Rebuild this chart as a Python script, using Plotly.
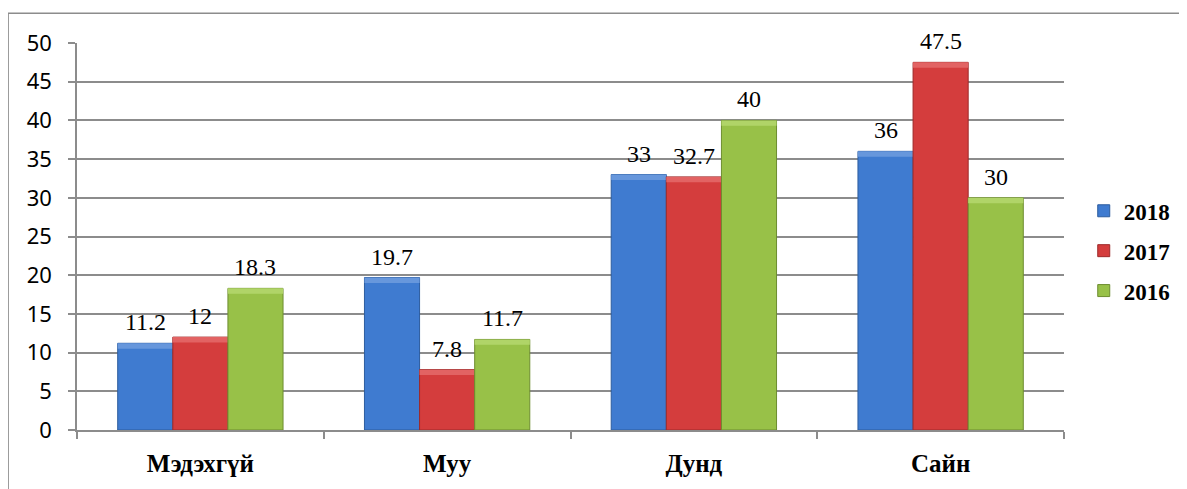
import plotly.graph_objects as go

# Survey answers by category and year
categories = ["Мэдэхгүй", "Муу", "Дунд", "Сайн"]
years = ["2018", "2017", "2016"]
values_2018 = [11.2, 19.7, 33, 36]
values_2017 = [12, 7.8, 32.7, 47.5]
values_2016 = [18.3, 11.7, 40, 30]
y_ticks = [0, 5, 10, 15, 20, 25, 30, 35, 40, 45, 50]

series = [values_2018, values_2017, values_2016]
fills = ["#3f7bd0", "#d43d3d", "#98c148"]
tops = ["#6797dc", "#e26363", "#b0d468"]
edges = ["#2c5c9e", "#9e2a2a", "#6d8d2f"]

BARGAP = 0.33
BEVEL = 0.7  # height of the lighter band on top of each bar, in y units
bar_w = (1 - BARGAP) / len(series)

fig = go.Figure()

for i, (name, vals) in enumerate(zip(years, series)):
    fig.add_trace(
        go.Bar(
            x=categories,
            y=vals,
            name=name,
            legendgroup=name,
            offsetgroup=str(i),
            marker=dict(color=fills[i], line=dict(color=edges[i], width=1)),
        )
    )
    # lighter bevel strip on the top of each bar
    fig.add_trace(
        go.Bar(
            x=categories,
            y=[BEVEL] * len(vals),
            base=[v - BEVEL for v in vals],
            offsetgroup=str(i),
            showlegend=False,
            hoverinfo="skip",
            marker=dict(color=tops[i], line=dict(width=0)),
        )
    )
    # value labels above each bar
    offset = (i - 1) * bar_w
    for j, v in enumerate(vals):
        fig.add_annotation(
            x=j + offset,
            y=v,
            text=f"{v:g}",
            showarrow=False,
            yanchor="bottom",
            yshift=6,
            font=dict(family="Liberation Serif", size=24, color="black"),
        )

# outer chart frame (page body adds an 8px offset, so the figure is 8px smaller)
fig.add_shape(
    type="rect",
    xref="paper",
    yref="paper",
    x0=-0.0698,
    x1=1.14,
    y0=-0.25,
    y1=1.077,
    line=dict(color="#8c8c8c", width=1.5),
    layer="below",
)

fig.update_layout(
    width=1179,
    height=481,
    margin=dict(l=69, r=122, t=35, b=57),
    paper_bgcolor="white",
    plot_bgcolor="white",
    barmode="group",
    bargap=BARGAP,
    bargroupgap=0,
    showlegend=True,
    legend=dict(
        x=1.02,
        y=0.463,
        xanchor="left",
        yanchor="middle",
        tracegroupgap=7,
        font=dict(family="Liberation Serif", size=23, color="black", weight="bold"),
    ),
    xaxis=dict(
        showline=True,
        linecolor="#8c8c8c",
        linewidth=1.5,
        ticks="outside",
        tickson="boundaries",
        ticklen=7,
        tickcolor="#8c8c8c",
        tickwidth=1.5,
        ticklabelstandoff=10,
        tickfont=dict(family="Liberation Serif", size=25, color="black", weight="bold"),
    ),
    yaxis=dict(
        range=[0, 50],
        tickvals=y_ticks,
        showline=True,
        linecolor="#8c8c8c",
        linewidth=1.5,
        ticks="outside",
        ticklen=7,
        tickcolor="#8c8c8c",
        tickwidth=1.5,
        showgrid=True,
        gridcolor="#8c8c8c",
        gridwidth=1.5,
        zeroline=False,
        ticklabelstandoff=12,
        tickfont=dict(family="Noto Sans", size=22, color="black"),
    ),
)

fig.write_html("out.html")
